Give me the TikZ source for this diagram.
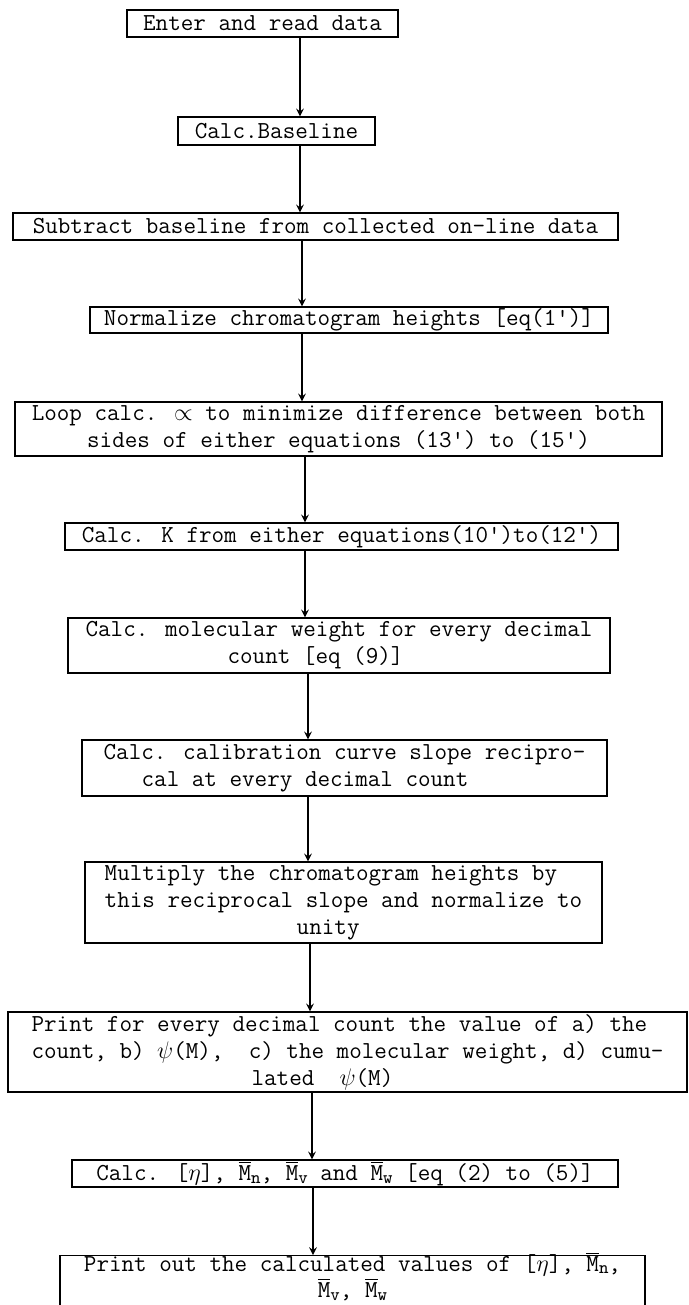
\documentclass[tikz,border=0pt]{standalone}
\usepackage{amsmath}
\usepackage{fontspec}
\usepackage{tikz}
% averaged molecular weight, M with a bar and a small index
\newcommand{\avgM}[1]{$\overline{\mbox{M}}$\raisebox{-1.2pt}{\fontsize{9}{9}\selectfont #1}}

\begin{document}
\begin{tikzpicture}[>=stealth, x=0.5pt, y=-0.5pt,
    stepbox/.style={draw, line width=0.7pt, inner sep=0pt, align=center,
      font=\ttfamily\fontsize{12.2}{13.5}\selectfont}]
  \useasboundingbox (0,0) rectangle (689,1305);
  % program steps, top to bottom
  \node[stepbox, minimum width=135.5pt, minimum height=13.5pt] (read) at (262.5,23.5)
    {Enter and read data};
  \node[stepbox, minimum width=98.5pt, minimum height=14pt] (base) at (276.5,131)
    {Calc.Baseline};
  \node[stepbox, minimum width=302.5pt, minimum height=13.5pt] (subtr) at (315.5,226.5)
    {Subtract baseline from collected on-line data};
  \node[stepbox, minimum width=259pt, minimum height=13pt] (norm) at (349,320)
    {Normalize chromatogram heights [eq(1')]};
  \node[stepbox, minimum width=323.5pt, minimum height=27pt] (loop) at (338.5,429)
    {Loop calc. $\propto$ to minimize difference between both\\
     sides of either equations (13') to (15')};
  \node[stepbox, minimum width=276.5pt, minimum height=13.5pt] (kval) at (341.5,536.5)
    {Calc. K from either equations(10')to(12')};
  \node[stepbox, align=left, minimum width=271pt, minimum height=27.5pt] (molw) at (339,645.5)
    {Calc. molecular weight for every decimal\\
     \hspace*{71pt}count [eq (9)]};
  \node[stepbox, align=left, minimum width=262.5pt, minimum height=28pt] (slope) at (344.5,768)
    {Calc. calibration curve slope recipro-\\
     \hspace*{19pt}cal at every decimal count};
  \node[stepbox, align=left, minimum width=258.5pt, minimum height=40.5pt] (mult) at (343.5,902.5)
    {Multiply the chromatogram heights by\\
     this reciprocal slope and normalize to\\
     \hspace*{96pt}unity};
  \node[stepbox, align=left, minimum width=339.5pt, minimum height=40pt] (prnt) at (347.5,1052)
    {Print for every decimal count the value of a) the\\
     count, b) $\psi$(M),~ c) the molecular weight, d) cumu-\\
     \hspace*{110pt}lated~ $\psi$(M)};
  \node[stepbox, minimum width=273pt, minimum height=13.5pt] (avgs) at (345,1173.5)
    {Calc. [$\eta$], \avgM{n}, \avgM{v} and \avgM{w} [eq (2) to (5)]};
  % last box runs past the foot of the page
  \node[stepbox, anchor=north, minimum width=292.5pt, inner ysep=0.5pt,
      text height=20.5pt, text depth=8pt,
      font=\ttfamily\fontsize{12.2}{12}\selectfont] (out) at (352.5,1255)
    {Print out the calculated values of [$\eta$], \avgM{n},\\
     \avgM{v}, \avgM{w}};
  % flow down the page
  \foreach \a/\b/\x in {read/base/300, base/subtr/300, subtr/norm/302, norm/loop/302,
      loop/kval/305, kval/molw/305, molw/slope/308, slope/mult/308, mult/prnt/310,
      prnt/avgs/312, avgs/out/313}
    {\coordinate (s) at (\x,0);
     \draw[->, line width=0.7pt] (\a.south -| s) -- (\b.north -| s);}
\end{tikzpicture}
\end{document}
